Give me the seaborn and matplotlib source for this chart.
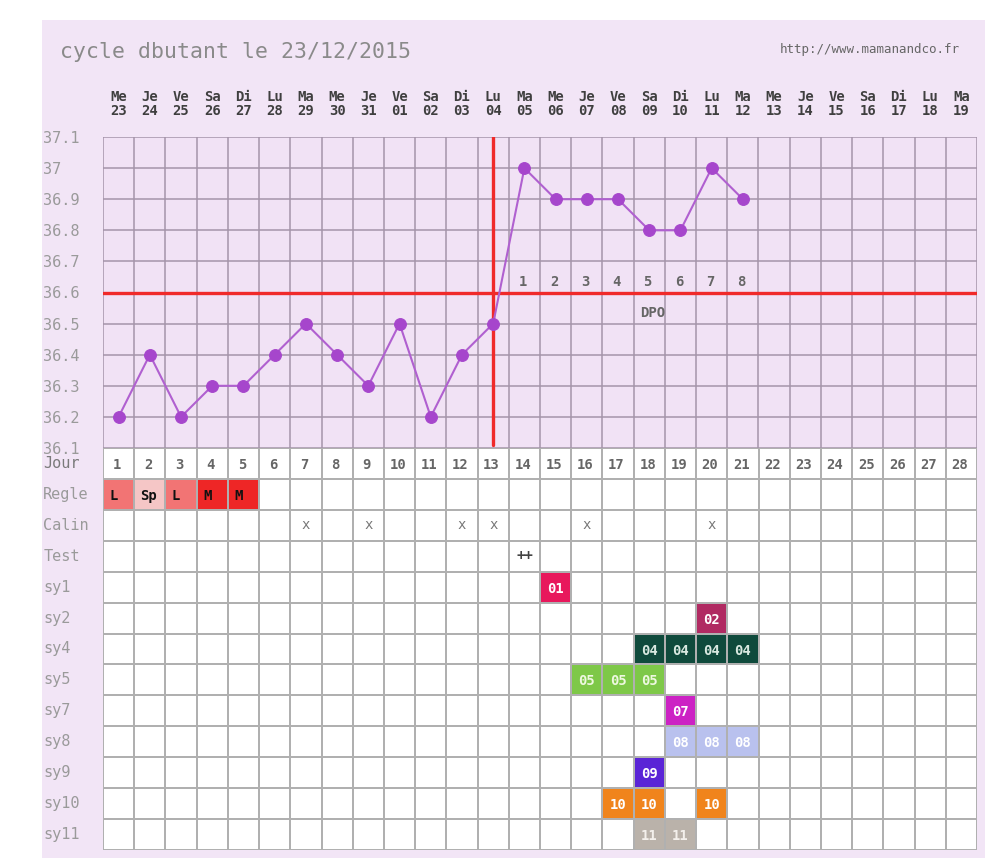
import numpy as np
import pandas as pd
import matplotlib
matplotlib.use("Agg")
import matplotlib.pyplot as plt
import seaborn as sns
from matplotlib.colors import ListedColormap
from matplotlib.patches import Rectangle

# ---------------- data ----------------
title = "cycle dbutant le 23/12/2015"
url = "http://www.mamanandco.fr"
days = list(range(1, 29))
weekdays = ["Me", "Je", "Ve", "Sa", "Di", "Lu", "Ma", "Me", "Je", "Ve", "Sa", "Di", "Lu", "Ma",
            "Me", "Je", "Ve", "Sa", "Di", "Lu", "Ma", "Me", "Je", "Ve", "Sa", "Di", "Lu", "Ma"]
dates = ["23", "24", "25", "26", "27", "28", "29", "30", "31", "01", "02", "03", "04", "05",
         "06", "07", "08", "09", "10", "11", "12", "13", "14", "15", "16", "17", "18", "19"]
temp_days = list(range(1, 22))
temps = [36.2, 36.4, 36.2, 36.3, 36.3, 36.4, 36.5, 36.4, 36.3, 36.5, 36.2, 36.4, 36.5,
         37.0, 36.9, 36.9, 36.9, 36.8, 36.8, 37.0, 36.9]
temp_ticks = [37.1, 37.0, 36.9, 36.8, 36.7, 36.6, 36.5, 36.4, 36.3, 36.2, 36.1]
temp_tick_labels = ["37.1", "37", "36.9", "36.8", "36.7", "36.6", "36.5", "36.4", "36.3", "36.2", "36.1"]
cover_line = 36.6
ovulation_day = 13
dpo_days = [14, 15, 16, 17, 18, 19, 20, 21]
dpo_labels = ["1", "2", "3", "4", "5", "6", "7", "8"]
dpo_text = "DPO"

row_labels = ["Jour", "Regle", "Calin", "Test", "sy1", "sy2", "sy4", "sy5", "sy7", "sy8",
              "sy9", "sy10", "sy11"]
regle_days = [1, 2, 3, 4, 5]
regle_marks = ["L", "Sp", "L", "M", "M"]
calin_days = [7, 9, 12, 13, 16, 20]
calin_mark = "x"
test_days = [14]
test_marks = ["++"]
symptom_rows = ["sy1", "sy2", "sy4", "sy5", "sy7", "sy8", "sy9", "sy10", "sy11"]
symptom_codes = ["01", "02", "04", "05", "07", "08", "09", "10", "11"]
symptom_days = [[15], [20], [18, 19, 20, 21], [16, 17, 18], [19], [19, 20, 21], [18],
                [17, 18, 20], [18, 19]]

# ---------------- styles ----------------
regle_colors = {"L": "#f27474", "Sp": "#f5c6c6", "M": "#ee2626"}
symptom_colors = ["#e8185c", "#b02a62", "#0f4a3c", "#7ec848", "#cc22c4", "#b9c1ee",
                  "#5a24d6", "#f0841c", "#bab2aa"]
symptom_text = ["#ffffff", "#ffffff", "#d8e8e0", "#eef8e0", "#ffffff", "#ffffff",
                "#ffffff", "#ffffff", "#f4f0ec"]
mono = "DejaVu Sans Mono"

sns.set_theme(style="white")
plt.rcParams["font.family"] = [mono, "DejaVu Sans"]

W, H = 1000, 864
fig = plt.figure(figsize=(W / 100, H / 100), dpi=100, facecolor="white")

# lilac panel
fig.patches.append(Rectangle((42 / W, 1 - 858 / H), (985 - 42) / W, (858 - 20) / H,
                             transform=fig.transFigure, facecolor="#f2e5f6",
                             edgecolor="none", zorder=-5))

L, R = 103, 977
T1, B1 = 137, 448
B2 = 850
ax_t = fig.add_axes([L / W, 1 - B1 / H, (R - L) / W, (B1 - T1) / H])
ax_b = fig.add_axes([L / W, 1 - B2 / H, (R - L) / W, (B2 - B1) / H])

# ---------------- temperature chart ----------------
ax_t.set_facecolor("#f1e2f5")
ax_t.set_xlim(0.5, 28.5)
ax_t.set_ylim(36.1, 37.1)
ax_t.set_yticks(temp_ticks)
ax_t.set_yticklabels(temp_tick_labels)
ax_t.grid(False)
for xv in [d - 0.5 for d in days] + [28.5]:
    ax_t.axvline(xv, color="#a595aa", lw=1.1, zorder=1)
for yv in temp_ticks:
    ax_t.axhline(yv, color="#a595aa", lw=1.1, zorder=1)
for s in ax_t.spines.values():
    s.set_visible(False)

ax_t.set_xticks(days)
ax_t.set_xticklabels([f"{w}\n{d}" for w, d in zip(weekdays, dates)])
ax_t.xaxis.tick_top()
ax_t.tick_params(axis="x", which="both", length=0, pad=14, labelsize=10, labelcolor="#3f3f3f")
for lab in ax_t.get_xticklabels():
    lab.set_fontweight("bold")
    lab.set_linespacing(0.92)
ax_t.tick_params(axis="y", length=0, pad=43, labelsize=11, labelcolor="#9a9a9a")
for lab in ax_t.get_yticklabels():
    lab.set_horizontalalignment("left")

ax_t.axhline(cover_line, color="#f02a2a", lw=2.4, zorder=3)
ax_t.plot([ovulation_day, ovulation_day], [36.11, 37.1], color="#f02a2a", lw=2.4, zorder=3)

df = pd.DataFrame({"day": temp_days, "temp": temps})
sns.lineplot(data=df, x="day", y="temp", ax=ax_t, color="#b060d0", lw=1.5,
             marker="o", markersize=8.5, markerfacecolor="#a646cc",
             markeredgecolor="#a646cc", zorder=4)
ax_t.set_xlabel("")
ax_t.set_ylabel("")
ax_t.set_xlim(0.5, 28.5)
ax_t.set_ylim(36.1, 37.1)

for d, lab in zip(dpo_days, dpo_labels):
    ax_t.text(d - 0.05, cover_line + 0.012, lab, ha="center", va="bottom",
              fontsize=10, color="#666666", fontweight="bold", zorder=5)
ax_t.text(17.7, 36.535, dpo_text, ha="left", va="center", fontsize=10,
          color="#666666", fontweight="bold", zorder=5)

# ---------------- table ----------------
palette = ["#ffffff"] + list(regle_colors.values()) + symptom_colors
reg_keys = list(regle_colors.keys())
mat = np.zeros((len(row_labels), len(days)), dtype=int)
ri = row_labels.index("Regle")
for d, m in zip(regle_days, regle_marks):
    mat[ri, d - 1] = 1 + reg_keys.index(m)
for k, (name, ds) in enumerate(zip(symptom_rows, symptom_days)):
    r = row_labels.index(name)
    for d in ds:
        mat[r, d - 1] = 1 + len(reg_keys) + k

tab = pd.DataFrame(mat, index=row_labels, columns=days)
cmap = ListedColormap(palette)
sns.heatmap(tab, ax=ax_b, cmap=cmap, vmin=-0.5, vmax=len(palette) - 0.5, cbar=False,
            linewidths=1.1, linecolor="#b0b0b0", xticklabels=False, yticklabels=row_labels)
ax_b.set_xlabel("")
ax_b.set_ylabel("")
ax_b.tick_params(axis="y", length=0, pad=43, labelsize=11, labelcolor="#9a9a9a",
                 rotation=0)
for lab in ax_b.get_yticklabels():
    lab.set_horizontalalignment("left")
    lab.set_verticalalignment("center")
ax_b.get_yticklabels()[0].set_color("#7a7a7a")

# Jour numbers
for j, d in enumerate(days):
    ax_b.text(j + 0.45, 0.55, str(d), ha="center", va="center", fontsize=10,
              color="#666666", fontweight="bold")
# Regle marks
for d, m in zip(regle_days, regle_marks):
    ax_b.text(d - 1 + 0.2, ri + 0.55, m, ha="left", va="center", fontsize=10,
              color="#111111", fontweight="bold")
# Calin
rc = row_labels.index("Calin")
for d in calin_days:
    ax_b.text(d - 0.5, rc + 0.5, calin_mark, ha="center", va="center", fontsize=10,
              color="#777777")
# Test
rt = row_labels.index("Test")
for d, m in zip(test_days, test_marks):
    ax_b.text(d - 0.5, rt + 0.5, m, ha="center", va="center", fontsize=10,
              color="#444444", fontweight="bold")
# Symptoms
for k, (name, ds) in enumerate(zip(symptom_rows, symptom_days)):
    r = row_labels.index(name)
    for d in ds:
        ax_b.text(d - 0.5, r + 0.55, symptom_codes[k], ha="center", va="center",
                  fontsize=10, color=symptom_text[k], fontweight="bold")

fig.text(60 / W, 1 - 52 / H, title, ha="left", va="center", fontsize=15.5, color="#8a8a8a",
         family=mono)
fig.text(960 / W, 1 - 50 / H, url, ha="right", va="center", fontsize=9, color="#666666",
         family=mono)

fig.savefig("out.png", dpi=100, facecolor="white")
